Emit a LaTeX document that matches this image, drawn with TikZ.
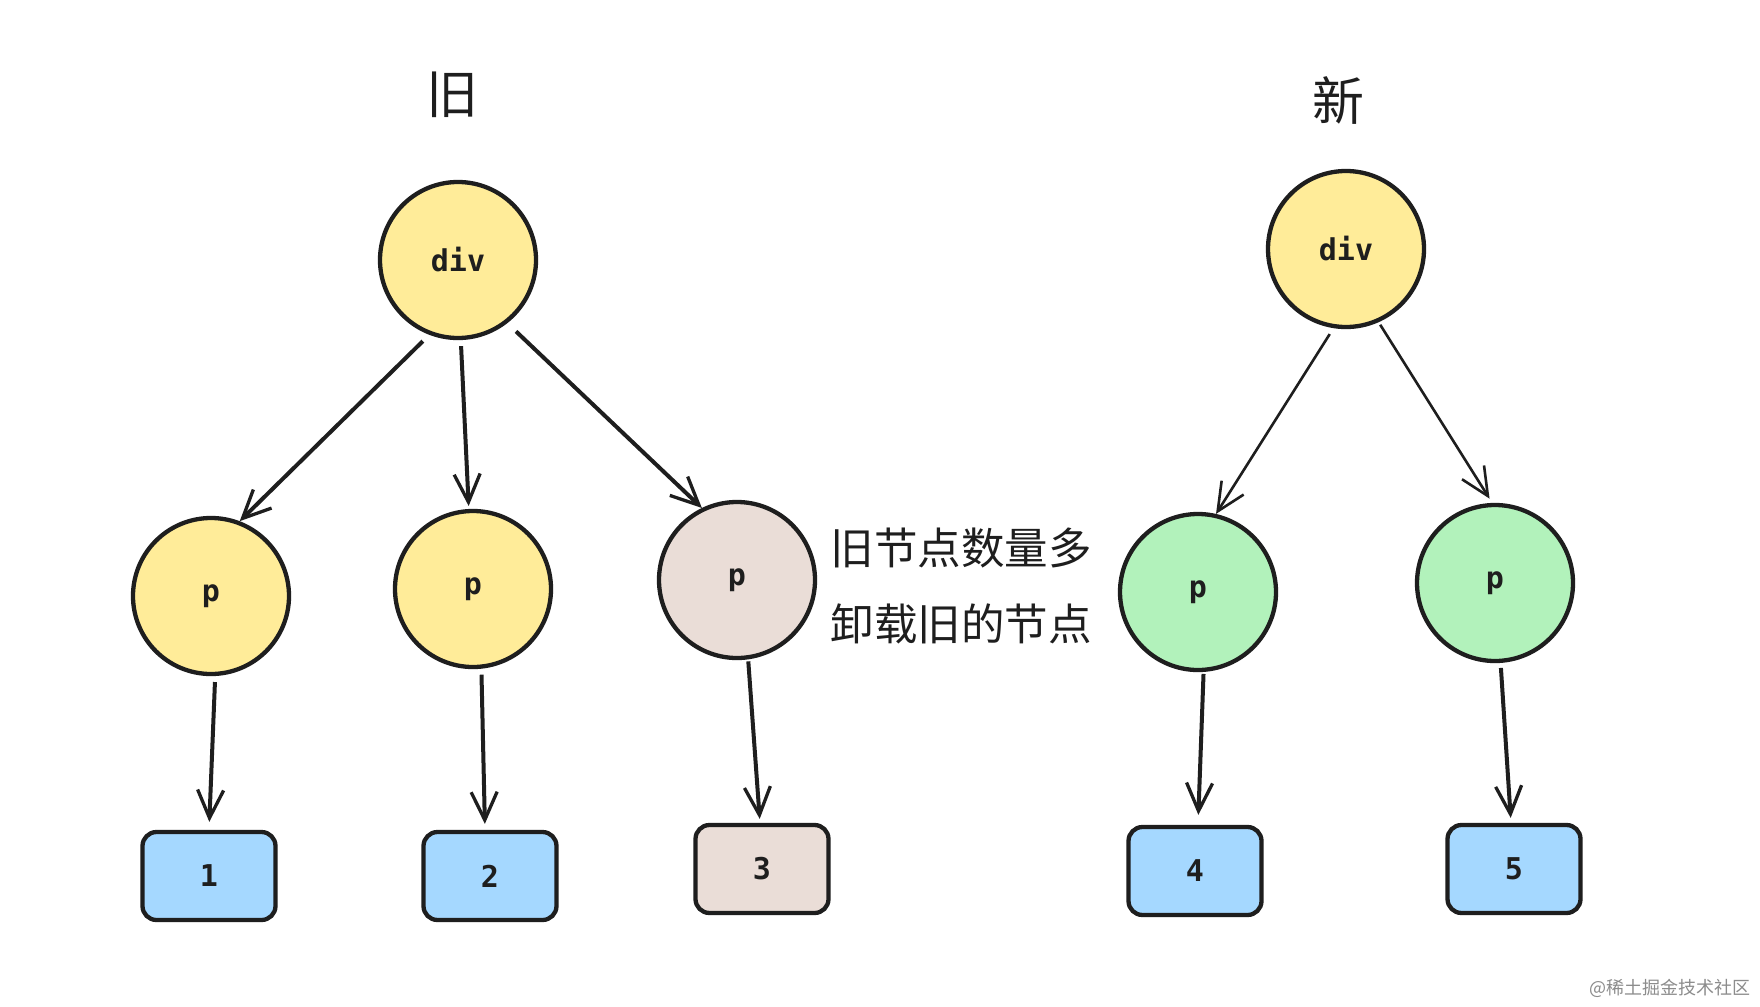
\documentclass[tikz,border=0pt]{standalone}
\usepackage{fontspec}
\newfontfamily\cjk{Noto Sans CJK SC}
\newfontfamily\monof{DejaVu Sans Mono}
\usetikzlibrary{arrows.meta}
\definecolor{ylw}{HTML}{FFEC99}
\definecolor{grn}{HTML}{B2F2BB}
\definecolor{blu}{HTML}{A5D8FF}
\definecolor{gry}{HTML}{EADDD7}
\definecolor{ink}{HTML}{1E1E1E}
\begin{document}
\begin{tikzpicture}[x=1pt,y=-1pt,
  circ/.style={circle,draw=ink,line width=4.3pt,minimum size=156pt,inner sep=0pt,font=\fontsize{30}{32}\selectfont\monof\bfseries,text=ink},
  boxn/.style={rectangle,rounded corners=14pt,draw=ink,line width=4.3pt,minimum width=133pt,minimum height=88pt,inner sep=0pt,font=\fontsize{30}{32}\selectfont\monof\bfseries,text=ink},
  conn/.style={draw=ink,line width=4pt,-{Straight Barb[length=28pt,width=26pt,line width=3.3pt]}},
  connthin/.style={draw=ink,line width=2.6pt,-{Straight Barb[length=28pt,width=26pt,line width=2.6pt]}},
  title/.style={font=\fontsize{52}{54}\selectfont\cjk,text=ink},
  note/.style={font=\fontsize{43.5}{46}\selectfont\cjk,text=ink,anchor=west}]
\useasboundingbox (0,0) rectangle (1760,1006);
\fill[white] (0,0) rectangle (1760,1006);
% titles
\node[title] (tOld) at (452,95) {旧};
\node[title] (tNew) at (1338,101) {新};
% old tree
\node[circ,fill=ylw] (divA) at (458,260) {div};
\node[circ,fill=ylw] (p1) at (211,596) {p};
\node[circ,fill=ylw] (p2) at (473,589) {p};
\node[circ,fill=gry] (p3) at (737,580) {p};
\node[boxn,fill=blu] (b1) at (209,876) {1};
\node[boxn,fill=blu] (b2) at (490,876) {2};
\node[boxn,fill=gry] (b3) at (762,869) {3};
% new tree
\node[circ,fill=ylw] (divB) at (1346,249) {div};
\node[circ,fill=grn] (p4) at (1198,592) {p};
\node[circ,fill=grn] (p5) at (1495,583) {p};
\node[boxn,fill=blu] (b4) at (1195,871) {4};
\node[boxn,fill=blu] (b5) at (1514,869) {5};
% note
\node[note] (n1) at (827,548) {旧节点数量多};
\node[note] (n2) at (827,624) {卸载旧的节点};
% watermark
\node[font=\fontsize{18}{20}\selectfont\cjk,text=black!45,anchor=east] (wm) at (1754,988) {@稀土掘金技术社区};
% connectors old
\draw[conn,shorten <=9pt] (divA.249) -- (p1.69);
\draw[conn,shorten <=6pt,shorten >=3pt] (divA.272) -- (p2.93);
\draw[conn,shorten <=12pt] (divA.308) -- (p3.116);
\draw[conn,shorten <=6pt,shorten >=8pt] (p1.273) -- (b1.north);
\draw[conn,shorten <=6pt,shorten >=6pt] (p2.276) -- ([xshift=-5pt]b2.north);
\draw[conn,shorten <=2pt,shorten >=4pt] (p3.278) -- ([xshift=-2pt]b3.north);
% connectors new
\draw[connthin,shorten <=7pt] (divB.261) -- (p4.77);
\draw[connthin,shorten <=3pt,shorten >=5pt] (divB.294) -- (p5.92);
\draw[conn,shorten <=2pt,shorten >=10pt] (p4.274) -- ([xshift=3pt]b4.north);
\draw[conn,shorten <=5pt,shorten >=5pt] (p5.274) -- ([xshift=-3pt]b5.north);
\end{tikzpicture}
\end{document}
